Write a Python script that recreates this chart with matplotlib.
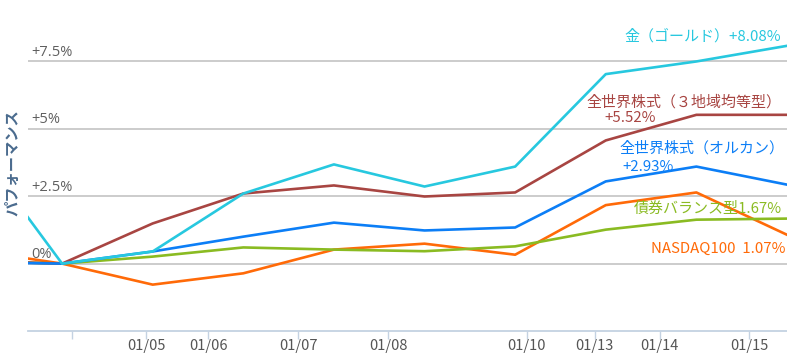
import matplotlib
matplotlib.use("Agg")
import matplotlib.pyplot as plt

plt.rcParams['font.family'] = ['Noto Sans CJK JP', 'DejaVu Sans']

# index 0 sits just left of the visible area
idx = [0, 1, 2, 3, 4, 5, 6, 7, 8, 9]

gold = [4.55, 0.0, 0.45, 2.60, 3.68, 2.86, 3.60, 7.03, 7.50, 8.08]
world3 = [0.10, 0.0, 1.49, 2.60, 2.90, 2.49, 2.64, 4.57, 5.52, 5.52]
allcountry = [0.05, 0.0, 0.45, 1.00, 1.52, 1.23, 1.34, 3.05, 3.60, 2.93]
bond = [0.10, 0.0, 0.26, 0.60, 0.52, 0.46, 0.64, 1.26, 1.63, 1.67]
nasdaq = [0.50, 0.0, -0.78, -0.36, 0.52, 0.74, 0.33, 2.17, 2.64, 1.07]

tick_pos = [1.105, 1.928, 2.613, 3.608, 4.597, 6.127, 6.878, 7.597, 8.586]
tick_labels = ['', '01/05', '01/06', '01/07', '01/08', '01/10', '01/13', '01/14', '01/15']

grid_vals = [0, 2.5, 5, 7.5]
grid_labels = ['0%', '+2.5%', '+5%', '+7.5%']

series = [
    (nasdaq, '#ff6a08'),
    (bond, '#8abb22'),
    (world3, '#a84542'),
    (allcountry, '#0c7ef6'),
    (gold, '#27c8df'),
]

fig = plt.figure(figsize=(7.87, 3.61), dpi=100)
ax = fig.add_axes([28 / 787, 30 / 361, 759 / 787, 331 / 361])
ax.set_xlim(0.624, 9.0)
ax.set_ylim(-2.5, 9.78)

for g, lab in zip(grid_vals, grid_labels):
    ax.axhline(g, color='#c8c8c8', lw=1.3, zorder=1)
    ax.text(0.665, g + 0.06, lab, color='#606060', fontsize=10.5, va='bottom', ha='left',
            family=['Open Sans', 'DejaVu Sans'])

for vals, col in series:
    ax.plot(idx, vals, color=col, lw=1.9, zorder=3)

# end labels
fs = 10.8
ax.text(8.93, 8.45, '金（ゴールド）+8.08%', color='#27c8df', fontsize=fs, ha='right', va='center')
ax.text(8.935, 6.0, '全世界株式（３地域均等型）', color='#a84542', fontsize=fs, ha='right', va='center')
ax.text(6.98, 5.40, '+5.52%', color='#a84542', fontsize=fs, ha='left', va='center')
ax.text(8.975, 4.29, '全世界株式（オルカン）', color='#0c7ef6', fontsize=fs, ha='right', va='center')
ax.text(7.18, 3.60, '+2.93%', color='#0c7ef6', fontsize=fs, ha='left', va='center')
ax.text(8.94, 2.05, '債券バランス型1.67%', color='#8abb22', fontsize=fs, ha='right', va='center')
ax.text(8.98, 0.53, 'NASDAQ100  1.07%', color='#ff6a08', fontsize=fs, ha='right', va='center')

for s in ['left', 'right', 'top']:
    ax.spines[s].set_visible(False)
ax.spines['bottom'].set_color('#c4d2e2')
ax.spines['bottom'].set_linewidth(1.3)
ax.set_yticks([])
ax.set_xticks(tick_pos)
ax.set_xticklabels(tick_labels, color='#555555', fontsize=10.5)
ax.tick_params(axis='x', length=6, width=1, color='#c4d2e2', pad=0)

fig.text(12 / 787, 1 - 163 / 361, 'パフォーマンス', rotation=90, color='#4a6b8e',
         fontsize=11, fontweight='bold', ha='center', va='center')

fig.savefig('out.png', dpi=100)
